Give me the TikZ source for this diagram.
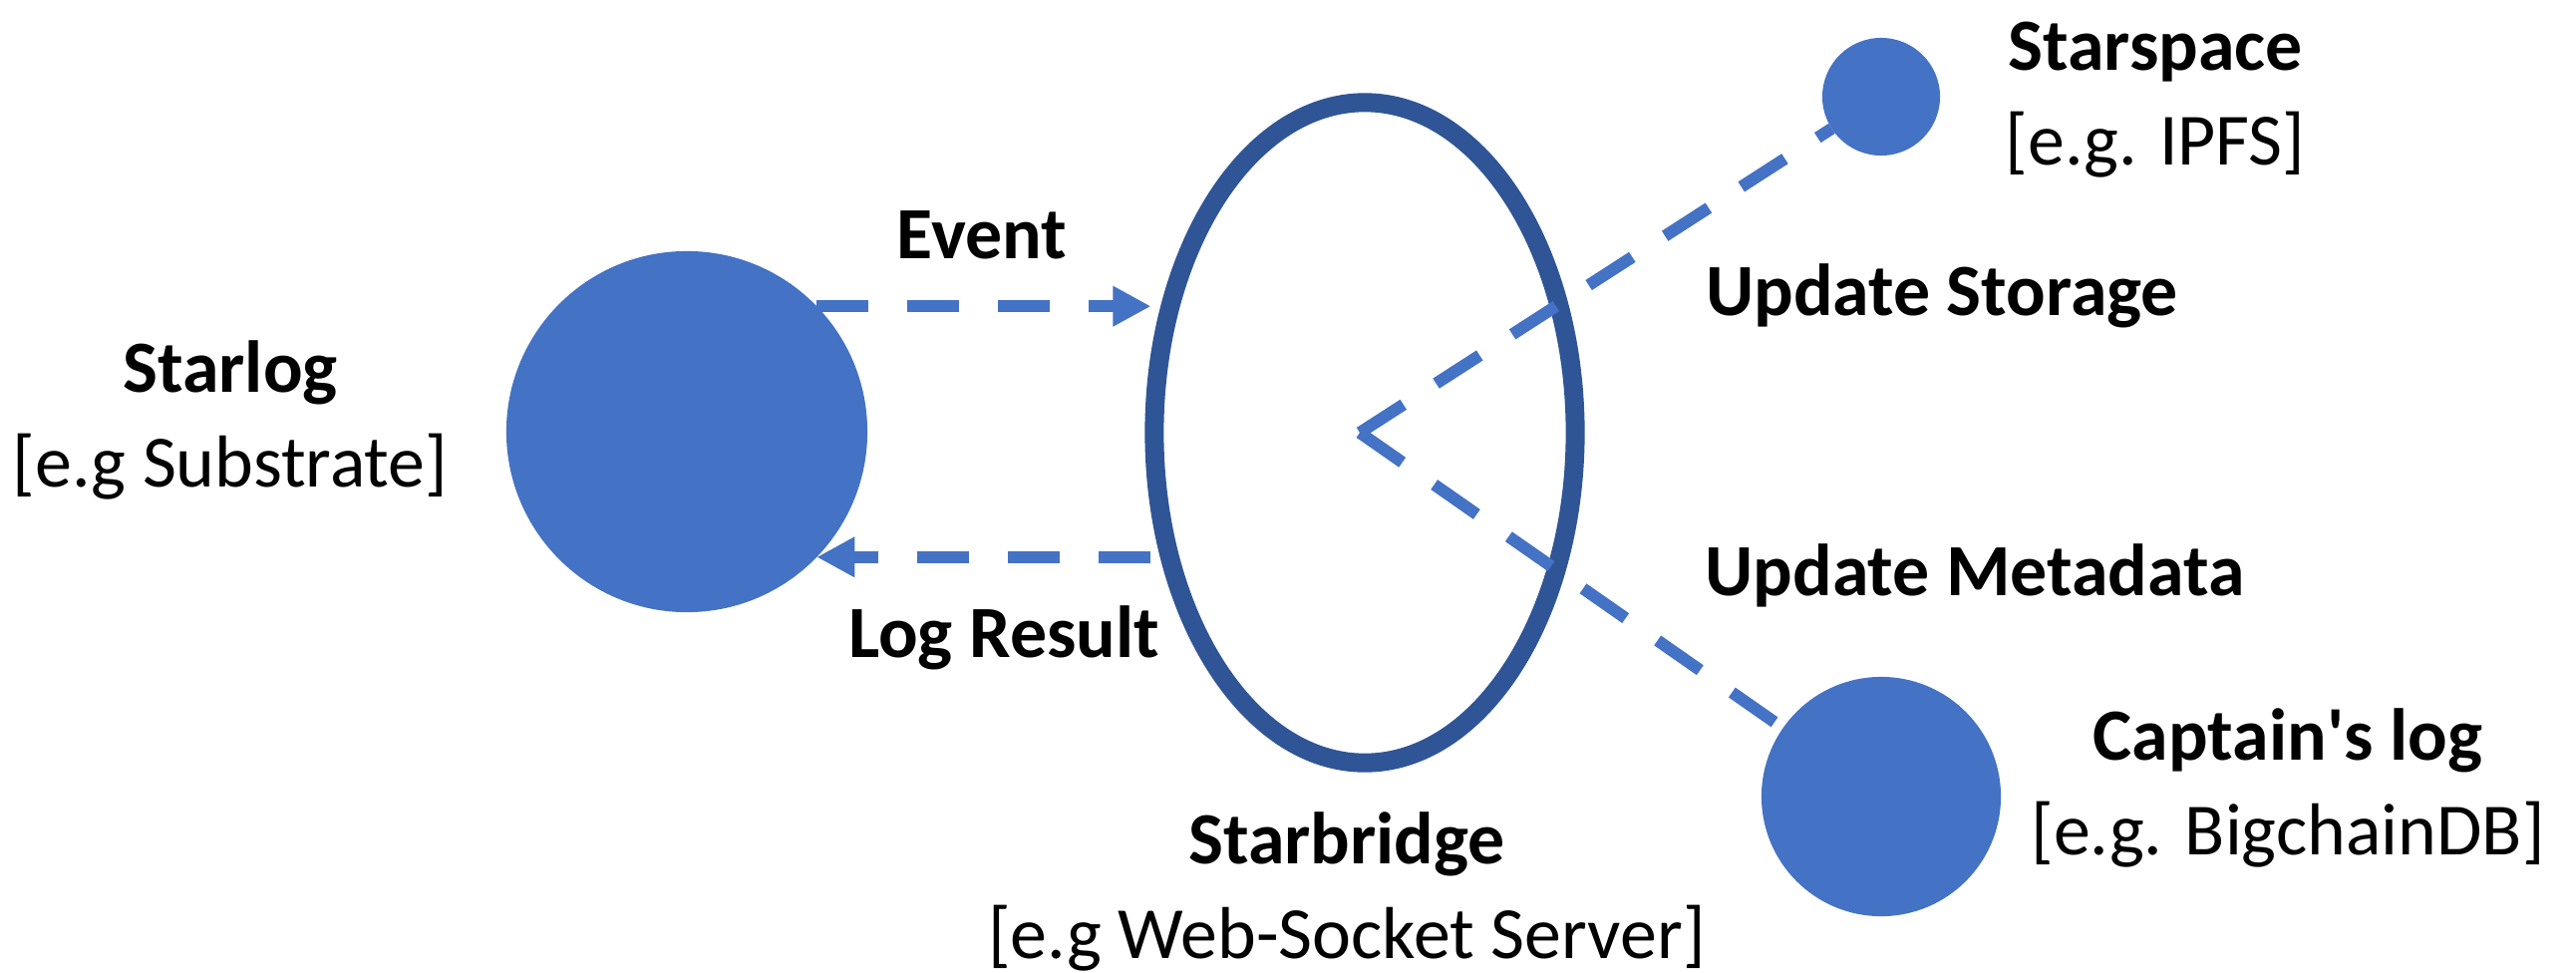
\documentclass[tikz,border=0pt]{standalone}
\usepackage{fontspec}
\setmainfont{Carlito}
\usetikzlibrary{positioning, arrows.meta, shapes.geometric}

\definecolor{nodeblue}{HTML}{4472C4}
\definecolor{ringblue}{HTML}{2F5597}

\begin{document}
\begin{tikzpicture}[
    x=0.01cm, y=-0.01cm,
    every node/.style={font=\fontsize{21}{27}\selectfont},
    dot/.style={
      circle, fill=nodeblue, inner sep=0pt, outer sep=0pt
    },
    lbl/.style={align=center, inner sep=0pt},
    dashline/.style={
      draw=nodeblue, line width=0.12cm,
      dash pattern=on 0.52cm off 0.39cm
    },
    arr/.style={dashline, -{Triangle[length=0.38cm, width=0.38cm]}}
  ]
    \useasboundingbox (0,0) rectangle (2584,975);

    % the four parts
    \node[dot, minimum size=3.62cm] (starlog) at (689,433) {};
    \node[ellipse, draw=ringblue, line width=0.19cm, inner sep=0pt,
      minimum width=4.22cm, minimum height=6.62cm] (bridge) at (1369,434) {};
    \node[dot, minimum size=1.18cm] (starspace) at (1887,97) {};
    \node[dot, minimum size=2.40cm] (captain) at (1887,799) {};
    \coordinate (hub) at (1364,434);

    % labels
    \node[lbl] (starlog-txt) at (231,421) {\textbf{Starlog}\\{[e.g Substrate]}};
    \node[lbl] (bridge-txt) at (1351,894) {\textbf{Starbridge}\\{[e.g Web-Socket Server]}};
    \node[lbl] (starspace-txt) at (2162,100) {\textbf{Starspace}\\{[e.g. IPFS]}};
    \node[lbl] (captain-txt) at (2295,790) {\textbf{Captain\textquotesingle s log}\\{[e.g. BigchainDB]}};
    \node[lbl] (event) at (985,236) {\textbf{Event}};
    \node[lbl] (result) at (1007,640) {\textbf{Log Result}};
    \node[lbl] (storage) at (1948,297) {\textbf{Update Storage}};
    \node[lbl] (meta) at (1981,577) {\textbf{Update Metadata}};

    % connectors
    \draw[arr, shorten >=0.1cm] (starlog.44) -- (starlog.44 -| bridge.148);
    \draw[arr, shorten <=0.1cm] (starlog.-44 -| bridge.-148) -- (starlog.-44);
    \draw[dashline] (hub) -- (starspace);
    \draw[dashline] (hub) -- (captain);
  \end{tikzpicture}
\end{document}
